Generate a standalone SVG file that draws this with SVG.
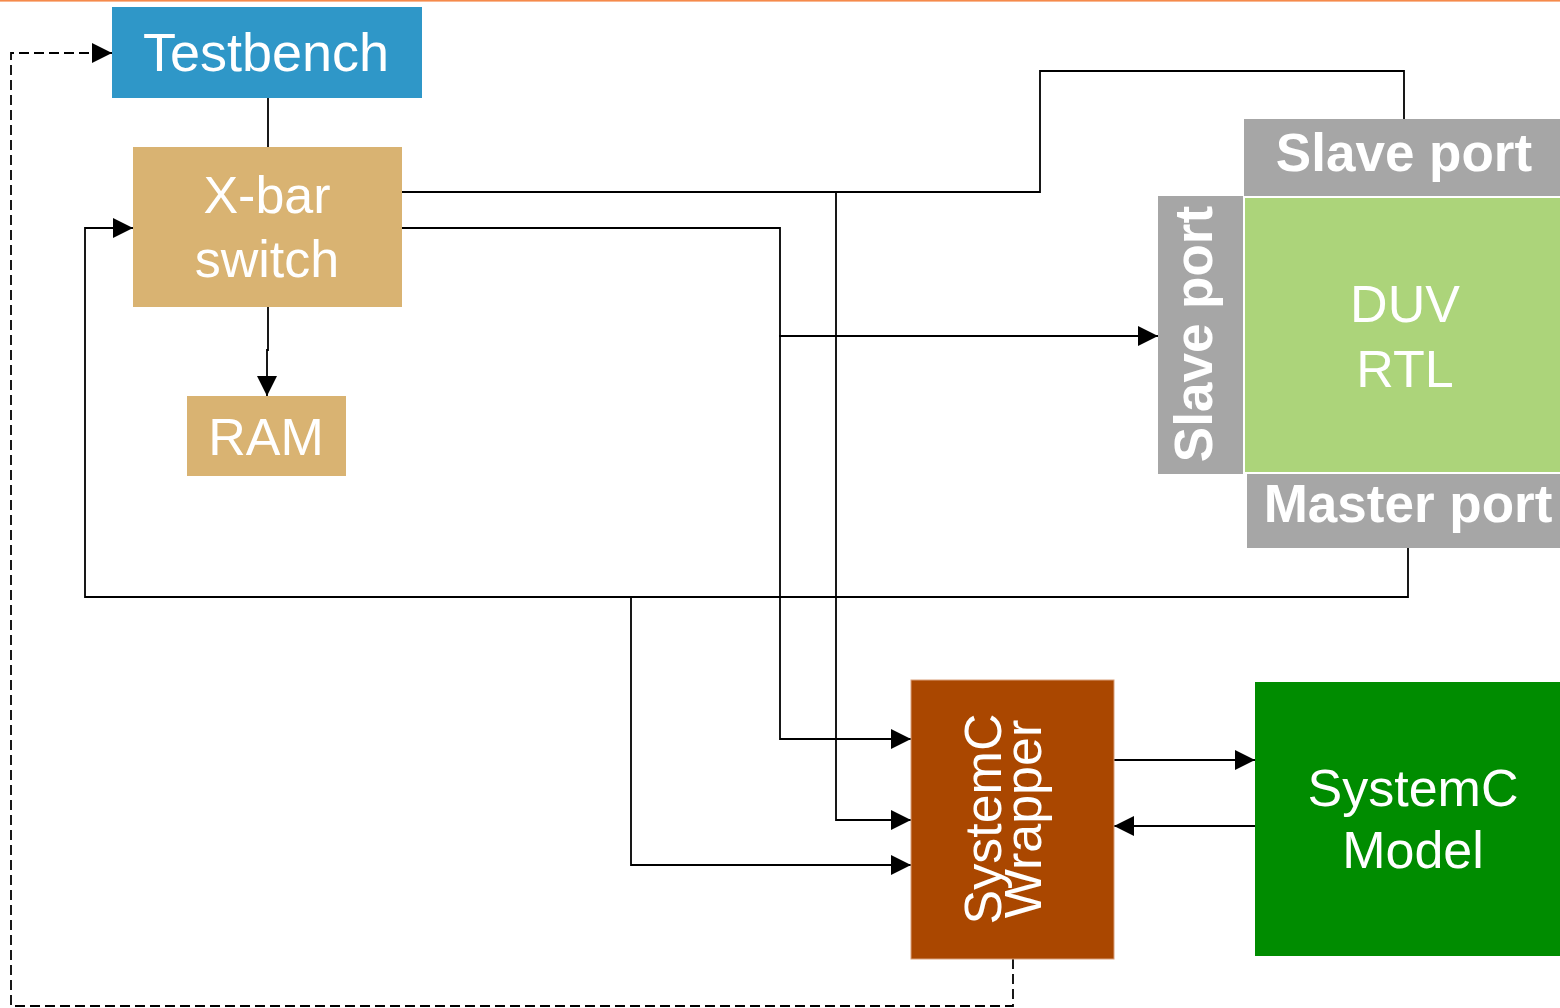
<svg xmlns="http://www.w3.org/2000/svg" width="1560" height="1008" viewBox="0 0 1560 1008">
<style>
.t{font-family:"Liberation Sans",Arial,sans-serif;font-size:52px;fill:#fff;text-anchor:middle}
.b{font-weight:bold;font-size:53px}
.c{fill:none;stroke:#000;stroke-width:1.8}
.d{stroke-dasharray:10 5}
</style>
<defs>
<marker id="ah" markerUnits="userSpaceOnUse" markerWidth="20" markerHeight="20" refX="20" refY="10" orient="auto">
<path d="M0,0 L20,10 L0,20 z" fill="#000"/>
</marker>
</defs>
<rect x="0" y="0" width="1560" height="1.6" fill="#F58A4B"/>
<g id="connectors">
<path class="c" d="M268 98 V147"/>
<path class="c" d="M268 307 V350 H267 V396" marker-end="url(#ah)"/>
<path class="c" d="M399 192 H1040 V71 H1404 V120"/>
<path class="c" d="M836 192 V820 H911" marker-end="url(#ah)"/>
<path class="c" d="M401 228 H780 V739 H911" marker-end="url(#ah)"/>
<path class="c" d="M779 336 H1158" marker-end="url(#ah)"/>
<path class="c" d="M1408 548 V597 H85 V228 H133" marker-end="url(#ah)"/>
<path class="c" d="M631 597 V865 H911" marker-end="url(#ah)"/>
<path class="c" d="M1114 760 H1255" marker-end="url(#ah)"/>
<path class="c" d="M1255 826 H1114" marker-end="url(#ah)"/>
<path class="c d" d="M1013 959 V1006 H11 V53 H112" marker-end="url(#ah)"/>
</g>
<g id="testbench">
<rect x="112" y="7" width="310" height="91" fill="#2F97C8"/>
<text class="t" x="266" y="71" style="font-size:54px">Testbench</text>
</g>
<g id="xbar">
<rect x="133" y="147" width="269" height="160" fill="#D9B372"/>
<text class="t" x="267" y="213">X-bar</text>
<text class="t" x="267" y="277">switch</text>
</g>
<g id="ram">
<rect x="187" y="396" width="159" height="80" fill="#D9B372"/>
<text class="t" x="266" y="455">RAM</text>
</g>
<g id="duv">
<rect x="1245" y="198" width="315" height="274" fill="#ACD47A"/>
<text class="t" x="1405" y="322">DUV</text>
<text class="t" x="1405" y="387">RTL</text>
</g>
<g id="slave-port-top">
<rect x="1244" y="119" width="316" height="77" fill="#A6A6A6"/>
<text class="t b" x="1404" y="171">Slave port</text>
</g>
<g id="slave-port-left">
<rect x="1158" y="196" width="85" height="278" fill="#A6A6A6"/>
<text class="t b" transform="translate(1212,334) rotate(-90)">Slave port</text>
</g>
<g id="master-port">
<rect x="1247" y="474" width="313" height="74" fill="#A6A6A6"/>
<text class="t b" x="1408" y="522">Master port</text>
</g>
<g id="wrapper">
<rect x="911" y="680" width="203" height="279" fill="#AA4700" stroke="#D9A07A" stroke-width="1"/>
<text class="t" transform="translate(1001,819) rotate(-90)">SystemC</text>
<text class="t" transform="translate(1041,819) rotate(-90)">Wrapper</text>
</g>
<g id="model">
<rect x="1255" y="682" width="305" height="274" fill="#008C00"/>
<text class="t" x="1413" y="806">SystemC</text>
<text class="t" x="1413" y="868">Model</text>
</g>
</svg>
